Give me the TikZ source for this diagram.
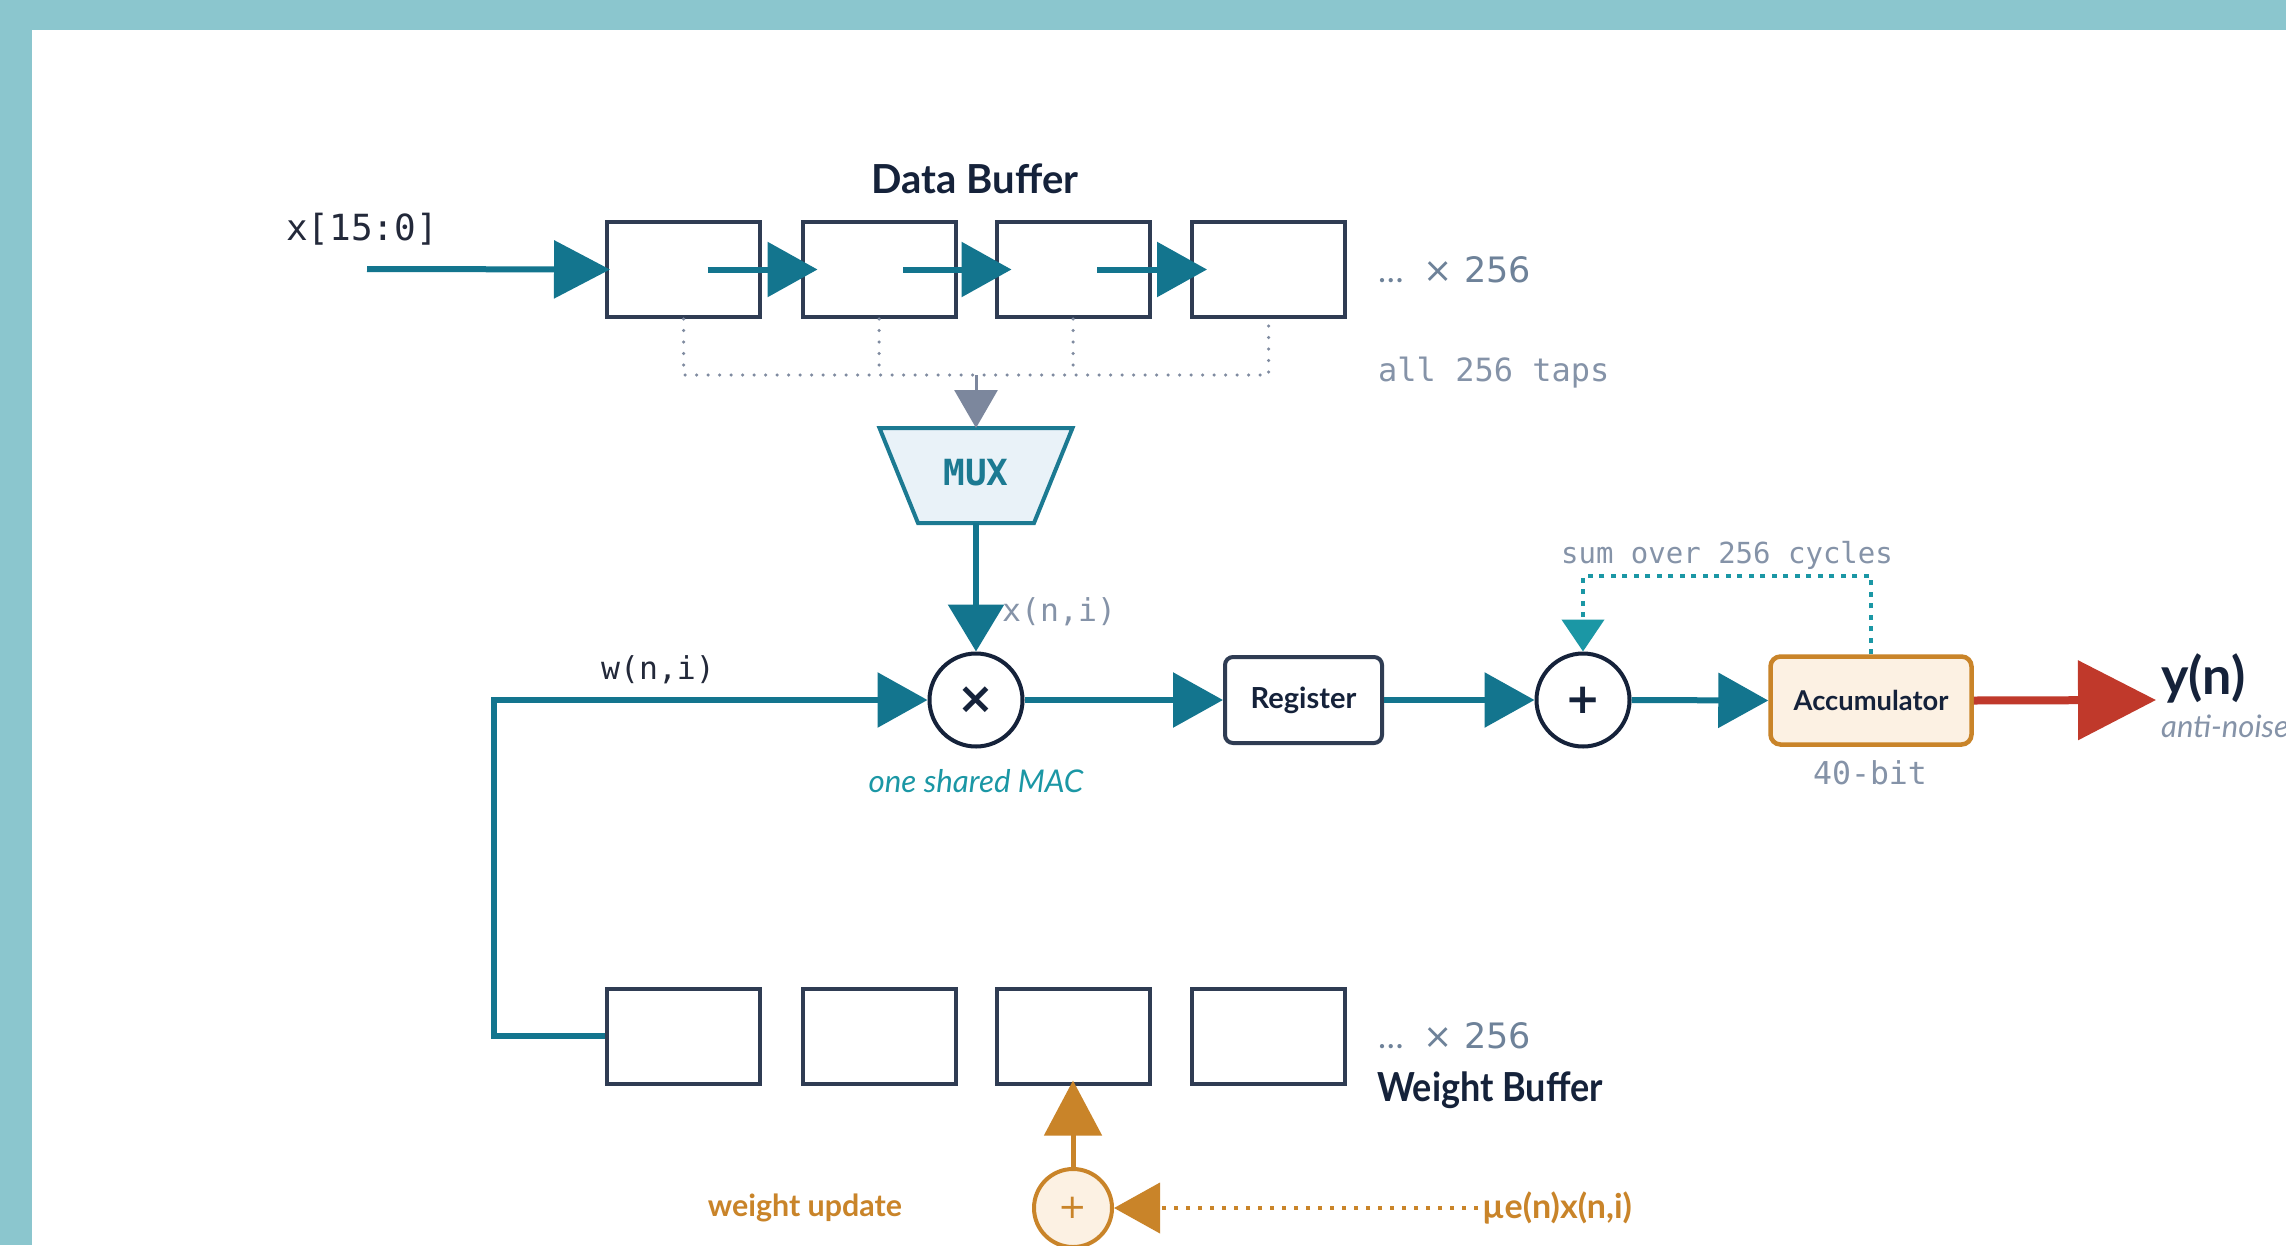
\documentclass[tikz,border=0pt]{standalone}
\usepackage{fontspec}
\usepackage{graphicx}
\setmainfont{Lato}
\newfontfamily\monof{DejaVu Sans Mono}
\newfontfamily\dvsans{DejaVu Sans}
\usetikzlibrary{arrows.meta,calc}
\newcommand\setfs[1]{\fontsize{#1pt}{#1pt}\selectfont}
\definecolor{band}{HTML}{8BC6CE}
\definecolor{cnavy}{HTML}{15223A}
\definecolor{cbox}{HTML}{2F3C53}
\definecolor{cteal}{HTML}{13758E}
\definecolor{clteal}{HTML}{1B97A5}
\definecolor{cgdot}{HTML}{7F8BA0}
\definecolor{cgarrow}{HTML}{7C879D}
\definecolor{cgtext}{HTML}{8593A8}
\definecolor{cgtexttwo}{HTML}{6E8299}
\definecolor{cmuxfill}{HTML}{E9F2F8}
\definecolor{cmuxline}{HTML}{1C7A92}
\definecolor{corange}{HTML}{C98429}
\definecolor{ccream}{HTML}{FCF1E3}
\definecolor{cred}{HTML}{C0392B}
\definecolor{cdark}{HTML}{23293A}
\tikzset{
  cell/.style={draw=cbox, line width=4pt, minimum width=153pt, minimum height=95pt, inner sep=0pt, fill=white},
  tarrow/.style={draw=cteal, line width=6pt, -{Triangle[length=50pt,width=54pt]}},
  tapdot/.style={draw=cgdot, line width=3.5pt, line cap=round, dash pattern=on 0pt off 11.5pt},
  garrow/.style={draw=cgarrow, line width=3pt, -{Triangle[length=38pt,width=43pt]}},
  circop/.style={circle, draw=cnavy, line width=4pt, minimum size=93pt, inner sep=0pt, fill=white, text=cnavy},
  rbox/.style={rectangle, rounded corners=8pt, draw=cbox, line width=4pt, fill=white, inner sep=0pt, text=cnavy},
  rarrow/.style={draw=cred, line width=8pt, -{Triangle[length=78pt,width=78pt]}},
  fbarrow/.style={draw=clteal, line width=4.5pt, dash pattern=on 5pt off 6.5pt, -{Triangle[length=32pt,width=42pt]}},
  oarrow/.style={draw=corange, line width=5pt, -{Triangle[length=55pt,width=57pt]}},
  odot/.style={draw=corange, line width=4pt, dash pattern=on 4pt off 8pt, -{Triangle[length=46pt,width=50pt]}},
  monogray/.style={font=\monof\setfs{31.5}, text=cgtext, inner sep=0pt},
  title/.style={text=cnavy, inner sep=0pt},
}
\begin{document}
\begin{tikzpicture}[x=1pt,y=-1pt]
\useasboundingbox (0,0) rectangle (2286,1245);
\clip (0,0) rectangle (2286,1245);
\fill[white] (0,0) rectangle (2286,1245);
\fill[band] (0,0) rectangle (2286,30);
\fill[band] (0,0) rectangle (32,1245);

% Data buffer
\node[title, font=\setfs{40}\bfseries] (dbt) at (975,179) {Data Buffer};
\node[anchor=west, font=\monof\setfs{36}, text=cdark, inner sep=0pt] (xin) at (286,229) {x[15:0]};
\coordinate (xsrc) at (367,269);
\node[cell] (d1) at (683.5,269.5) {};
\node[cell] (d2) at (879,269.5) {};
\node[cell] (d3) at (1073,269.5) {};
\node[cell] (d4) at (1268.5,269.5) {};
\draw[tarrow, -{Triangle[length=56pt,width=57pt]}] (xsrc) -- ([xshift=5pt]d1.west);
\draw[tarrow] ([xshift=24pt]d1.center) -- ([xshift=17pt]d2.west);
\draw[tarrow] ([xshift=24pt]d2.center) -- ([xshift=17pt]d3.west);
\draw[tarrow] ([xshift=24pt]d3.center) -- ([xshift=17pt]d4.west);
\node[anchor=base west, text=cgtexttwo, inner sep=0pt] (dmore) at (1378,282) {\setfs{34}…\hspace{9pt}\dvsans\setfs{35}\ × 256};
\node[monogray, font=\monof\setfs{32}, anchor=west] (taps) at (1378,373) {all 256 taps};

% taps
\coordinate (tap) at (976,375);
\draw[tapdot] (d1.south) -- (d1.south |- tap) -- (d4.south |- tap) -- (d4.south);
\draw[tapdot] (d2.south) -- (d2.south |- tap);
\draw[tapdot] (d3.south) -- (d3.south |- tap);

% MUX
\node[inner sep=0pt, outer sep=0pt, minimum width=193pt, minimum height=95pt] (mux) at (976,475.5) {};
\draw[draw=cmuxline, fill=cmuxfill, line width=4pt, line join=miter]
  (mux.north west) -- (mux.north east) -- ([xshift=-38.5pt]mux.south east) -- ([xshift=38.5pt]mux.south west) -- cycle;
\node[font=\monof\bfseries\setfs{36}, text=cmuxline, inner sep=0pt] (muxtxt) at (976,473) {MUX};
\draw[garrow] (tap) -- (mux.north);

% MAC row
\node[circop, font=\dvsans\bfseries\setfs{44}] (mul) at (976,700) {×};
\draw[tarrow, -{Triangle[length=47pt,width=55pt]}] (mux.south) -- (mul.north);
\node[monogray, anchor=west] (xni) at (1002,612) {x(n,i)};
\node[font=\monof\setfs{31.5}, text=cdark, inner sep=0pt] (wni) at (658,670) {w(n,i)};
\node[font=\setfs{31.3}\itshape, text=clteal, inner sep=0pt] (mac) at (976,781) {one shared MAC};

\node[rbox, font=\setfs{29}\bfseries, minimum width=157pt, minimum height=86pt] (reg) at (1303.5,700) {Register};
\node[circop, font=\dvsans\bfseries\setfs{42}] (add) at (1583,700) {+};
\node[rbox, font=\setfs{27.3}\bfseries, rounded corners=10pt, draw=corange, fill=ccream, line width=4.5pt, minimum width=201pt, minimum height=88pt] (acc) at (1871,700.5) {Accumulator};

\draw[tarrow] (mul.east) -- (reg.west);
\draw[tarrow] (reg.east) -- (add.west);
\draw[tarrow] (add.east) -- (acc.west);

\coordinate (yout) at (2156,700);
\draw[rarrow] (acc.east) -- (yout);
\node[anchor=base west, font=\setfs{52}\bfseries, text=cnavy, inner sep=0pt] (yn) at (2161,694) {y(n)};
\node[anchor=base west, font=\setfs{31}\itshape, text=cgtext, inner sep=0pt] (anti) at (2161,737) {anti-noise};
\node[monogray] (bits) at (1870,773) {40-bit};

\coordinate (fb) at (1700,576);
\draw[fbarrow] (acc.north) -- (acc.north |- fb) -| (add.north);
\node[font=\monof\setfs{29}, text=cgtext, inner sep=0pt] (sum) at (1727,555) {sum over 256 cycles};

% Weight buffer
\node[cell] (w1) at (683.5,1036) {};
\node[cell] (w2) at (879,1036) {};
\node[cell] (w3) at (1073,1036) {};
\node[cell] (w4) at (1268.5,1036) {};
\node[anchor=base west, text=cgtexttwo, inner sep=0pt] (wmore) at (1378,1048) {\setfs{34}…\hspace{9pt}\dvsans\setfs{35}\ × 256};
\node[title, anchor=west] (wbt) at (1377,1090) {\scalebox{0.9}[1]{\setfs{40}\bfseries Weight Buffer}};

\draw[tarrow] (w1.west) -- ++(-111,0) |- (mul.west);

% weight update
\node[circle, draw=corange, fill=ccream, line width=4pt, minimum size=78pt, inner sep=0pt, font=\dvsans\setfs{34}, text=corange] (upd) at (1073,1208) {+};
\draw[oarrow] (upd.north) -- ([yshift=5pt]w3.south);
\node[anchor=west, font=\setfs{34}\bfseries, text=corange, inner sep=4pt] (mut) at (1478,1208) {µe(n)x(n,i)};
\draw[odot] (mut.west) -- (upd.east);
\node[font=\setfs{30.4}\bfseries, text=corange, inner sep=0pt] (wup) at (805,1208) {weight update};
\end{tikzpicture}
\end{document}
